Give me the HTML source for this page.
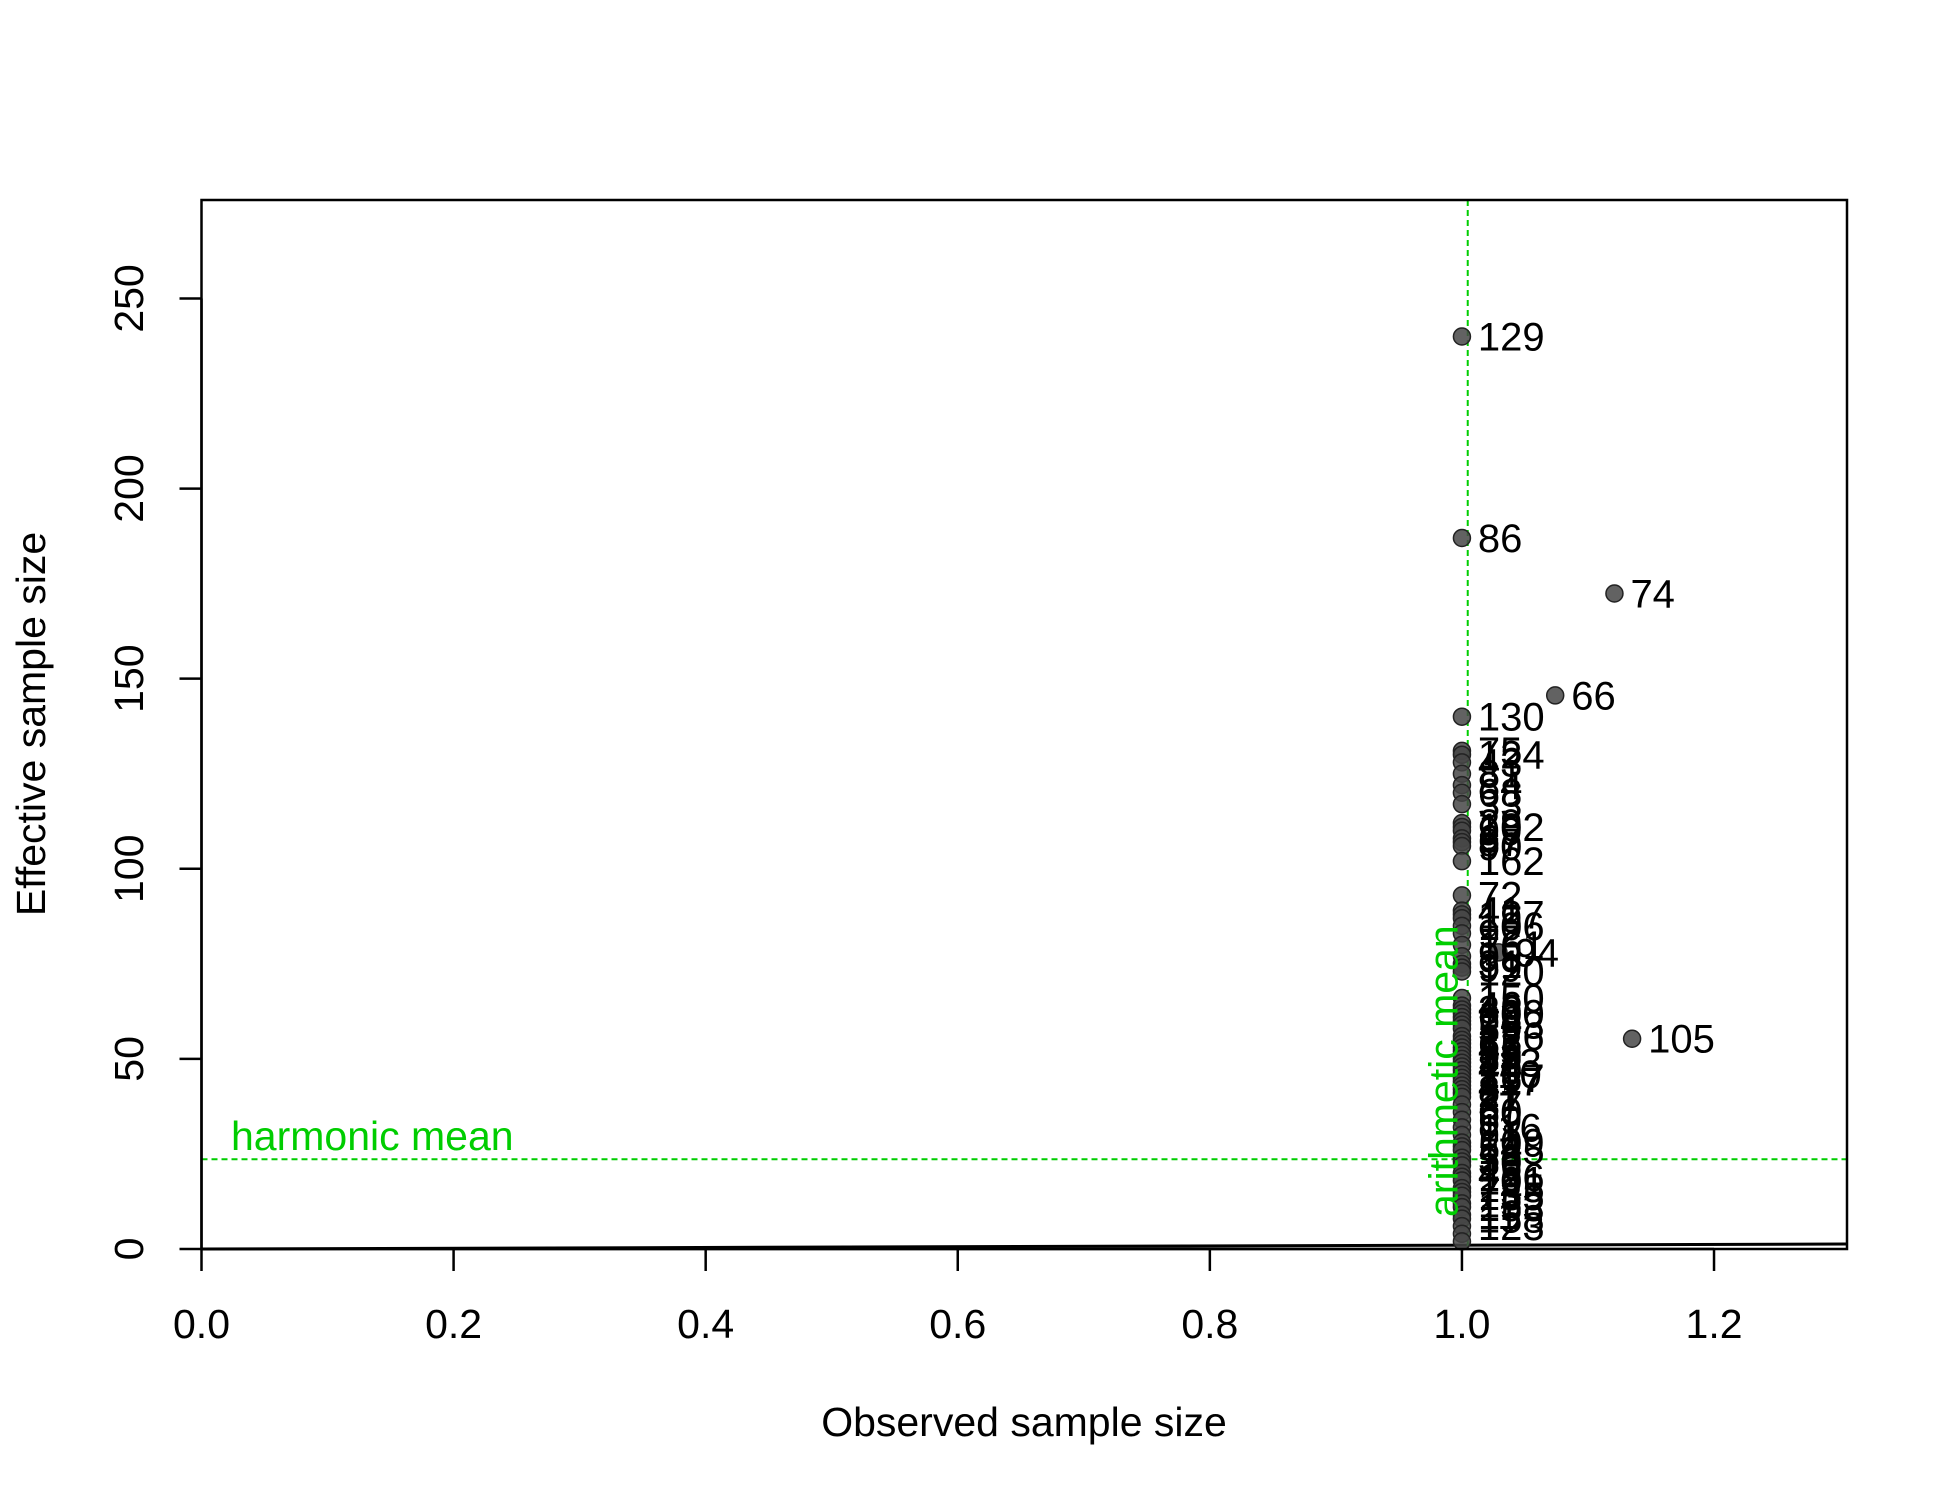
<!DOCTYPE html>
<html><head><meta charset="utf-8"><style>
body{margin:0;background:#fff}
svg text{font-family:"Liberation Sans",Arial,sans-serif}
</style></head><body>
<svg id="chart" width="1950" height="1500" xmlns="http://www.w3.org/2000/svg">
<rect width="1950" height="1500" fill="#fff"/>
<g id="marks"></g>
<g id="axes"></g>
</svg>
<script>
const xTicks=[0,0.2,0.4,0.6,0.8,1.0,1.2];
const xTickLabels=["0.0","0.2","0.4","0.6","0.8","1.0","1.2"];
const yTicks=[0,50,100,150,200,250];
const yTickLabels=["0","50","100","150","200","250"];
const ptX=[1,1,1.121,1.074,1,1.135,1.029,
1,1,1,1,1,1,1,1,1,1,1,1,1,1,
1,1,1,1,1,1,1,1,1,1,1,
1,1,1,1,1,1,1,1,1,1,1,1,1,1,1,1,1,1,1,1,1,1,1,1,1,
1,1,1,1,1,1,1,1,1,1,1,1,1,1,1,1,1,1,1,1,1,1,1,1];
const ptY=[240,187,172.4,145.6,140,55.3,78,
131,130,128,125,122,120,117,112,111,110,108,107,106,102,
93,89,88,87,85,83,80,77,75,74,73,
66,64,63,62,61,60,59,58,56,55,54,53,52,51,50,49,48,47,46,45,44,43,42,41,40,
38,36,34,32,30,28,27,26,24,23,22,20,19,18,16,15,14,12,11,9,8,6,4,2];
const ptLab=["129","86","74","66","130","105","94",
"75","124","43","81","84","68","33","29","102","99","67","87","90",
"162","72","41","127","19","106","92","161","99","31","99",
"120","150","46","36","100","63","24","163","59","126","13","62","45","55","25","57","113","44","70","110","167","117","47","8",
"27","21","37","60","69","116","91","109","54","125","58","30","16","48","156","101","145","73","135","15","153","11","158","123"];
const meanX=1.0046, harmY=23.6;

const L=201.5,R=1847,T=200,B=1249;
const X0=0,X1=1.3055,Y0=0,Y1=275.9;
const sx=v=>L+(v-X0)/(X1-X0)*(R-L);
const sy=v=>B-(v-Y0)/(Y1-Y0)*(B-T);
const NS="http://www.w3.org/2000/svg";
function mk(tag,attrs,parent,txt){const e=document.createElementNS(NS,tag);for(const k in attrs)e.setAttribute(k,attrs[k]);if(txt!==undefined)e.textContent=txt;parent.appendChild(e);return e;}
const marks=document.getElementById('marks'),axes=document.getElementById('axes');

const idl=mk('line',{x1:sx(0),y1:sy(0),x2:sx(X1),y2:sy(X1),stroke:'#000','stroke-width':3},marks);



const hl=mk('line',{x1:L,y1:sy(harmY),x2:R,y2:sy(harmY),stroke:'#00cd00','stroke-width':2,'stroke-dasharray':'6,4'},marks);


const vl=mk('line',{x1:sx(meanX),y1:T,x2:sx(meanX),y2:B,stroke:'#00cd00','stroke-width':2,'stroke-dasharray':'6,4'},marks);



for(let i=0;i<ptX.length;i++){
  const c=mk('circle',{cx:sx(ptX[i]),cy:sy(ptY[i]),r:8.5,fill:'rgba(70,70,70,0.85)',stroke:'#222','stroke-width':1.5},marks);
  
  
}
for(let i=0;i<ptX.length;i++){
  const t=mk('text',{x:sx(ptX[i])+16,y:sy(ptY[i])+14,'font-size':40,fill:'#000'},marks,ptLab[i]);
  
  
}

const ht=mk('text',{x:231,y:1150,'font-size':41,fill:'#00cd00'},marks,'harmonic mean');


const at=mk('text',{x:0,y:0,'font-size':41,fill:'#00cd00',transform:`translate(${sx(meanX)-10},1217) rotate(-90)`},marks,'arithmetic mean');



const fr=mk('rect',{x:L,y:T,width:R-L,height:B-T,fill:'none',stroke:'#000','stroke-width':2.5},axes);



const xa=mk('line',{x1:sx(0),y1:B,x2:sx(1.2),y2:B,stroke:'#000','stroke-width':2.5},axes);


xTicks.forEach((v,i)=>{
  const tk=mk('line',{x1:sx(v),y1:B,x2:sx(v),y2:B+22,stroke:'#000','stroke-width':2.5},axes);
  
  
  const tl=mk('text',{x:sx(v),y:1338,'font-size':41,'text-anchor':'middle'},axes,xTickLabels[i]);
  
  
});
const ya=mk('line',{x1:L,y1:sy(0),x2:L,y2:sy(250),stroke:'#000','stroke-width':2.5},axes);


yTicks.forEach((v,i)=>{
  const tk=mk('line',{x1:L,y1:sy(v),x2:L-22,y2:sy(v),stroke:'#000','stroke-width':2.5},axes);
  
  
  const tl=mk('text',{x:0,y:0,'font-size':41,'text-anchor':'middle',transform:`translate(143,${sy(v)}) rotate(-90)`},axes,yTickLabels[i]);
  
  
});
const xt=mk('text',{x:1024,y:1436,'font-size':41,'text-anchor':'middle'},axes,'Observed sample size');


const yt=mk('text',{x:0,y:0,'font-size':41,'text-anchor':'middle',transform:'translate(45,724) rotate(-90)'},axes,'Effective sample size');


</script>
</body></html>
